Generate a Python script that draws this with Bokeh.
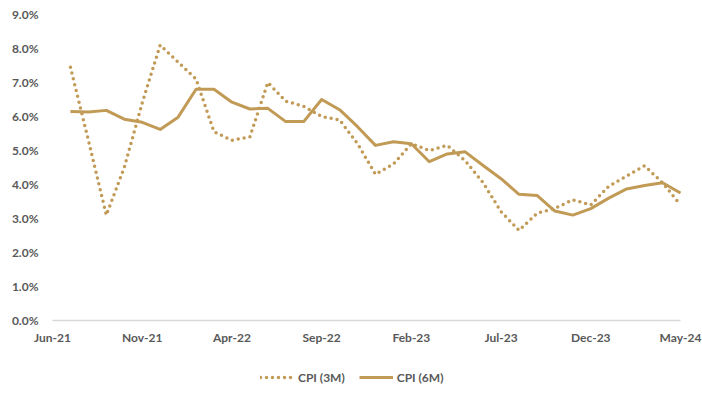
from bokeh.plotting import figure
from bokeh.models import Legend, LegendItem, ColumnDataSource
from bokeh.embed import file_html
from bokeh.resources import INLINE

months = ["Jun-21", "Jul-21", "Aug-21", "Sep-21", "Oct-21", "Nov-21", "Dec-21",
          "Jan-22", "Feb-22", "Mar-22", "Apr-22", "May-22", "Jun-22", "Jul-22",
          "Aug-22", "Sep-22", "Oct-22", "Nov-22", "Dec-22", "Jan-23", "Feb-23",
          "Mar-23", "Apr-23", "May-23", "Jun-23", "Jul-23", "Aug-23", "Sep-23",
          "Oct-23", "Nov-23", "Dec-23", "Jan-24", "Feb-24", "Mar-24", "Apr-24",
          "May-24"]

# values start at Jul-21 (Jun-21 category is empty)
cpi_3m = [7.45, 5.3, 3.1, 4.5, 6.4, 8.1, 7.6, 7.1, 5.55, 5.3, 5.4, 7.0, 6.45,
          6.3, 6.0, 5.9, 5.2, 4.3, 4.6, 5.2, 5.0, 5.15, 4.7, 4.05, 3.2, 2.65,
          3.15, 3.3, 3.55, 3.4, 3.95, 4.25, 4.55, 4.05, 3.4]
cpi_6m = [6.15, 6.13, 6.18, 5.92, 5.83, 5.62, 5.98, 6.8, 6.8, 6.42, 6.22, 6.24,
          5.85, 5.85, 6.5, 6.2, 5.7, 5.15, 5.26, 5.2, 4.67, 4.9, 4.96, 4.56,
          4.17, 3.71, 3.68, 3.22, 3.1, 3.29, 3.6, 3.87, 3.97, 4.05, 3.75]

y_ticks = [0, 1, 2, 3, 4, 5, 6, 7, 8, 9]
y_labels = [f"{t:.1f}%" for t in y_ticks]
x_ticks = [0, 5, 10, 15, 20, 25, 30, 35]
x_labels = [months[i] for i in x_ticks]

GOLD = "#C19A56"
TEXT = "#595959"
FONT = "Lato"

# layout (pixels): plot area x 52..680, y=9 at 14, y=0 at 320; frame = whole page
W, H = 702, 399
LEFT_PX, RIGHT_PX, TOP_PX, ZERO_PX = 52, 680, 14, 320
n_last = len(months) - 1
xu = (RIGHT_PX - LEFT_PX) / n_last
yu = (ZERO_PX - TOP_PX) / 9
x_start = -LEFT_PX / xu
x_end = n_last + (W - RIGHT_PX) / xu
y_end = 9 + TOP_PX / yu
y_start = 9 - (H - TOP_PX) / yu

x_idx = list(range(1, len(months)))
src = ColumnDataSource(dict(x=x_idx, m3=cpi_3m, m6=cpi_6m))
xlab_src = ColumnDataSource(dict(x=x_ticks, y=[0] * len(x_ticks), t=x_labels))
ylab_src = ColumnDataSource(dict(x=[0] * len(y_ticks), y=y_ticks, t=y_labels))

p = figure(width=W, height=H, output_backend="svg", toolbar_location=None,
           x_range=(x_start, x_end), y_range=(y_start, y_end),
           x_axis_location=None, y_axis_location=None,
           min_border=0)
p.outline_line_color = None
p.background_fill_color = "white"
p.border_fill_color = "white"
p.xgrid.visible = False
p.ygrid.visible = False

# category axis line
p.segment(x0=[x_ticks[0]], y0=[0], x1=[x_ticks[-1]], y1=[0],
          line_color="#D9D9D9", line_width=1.5)

r3 = p.line("x", "m3", source=src, line_color=GOLD, line_width=3.5,
            line_dash="0 6", line_cap="round")
r6 = p.line("x", "m6", source=src, line_color=GOLD, line_width=3,
            line_join="round")

# axis labels
p.text("x", "y", text="t", source=xlab_src, text_align="center",
       text_baseline="top", y_offset=9, text_font={"value": FONT},
       text_font_size="12px", text_font_style="bold", text_color=TEXT)
p.text("x", "y", text="t", source=ylab_src, text_align="right",
       text_baseline="middle", x_offset=-14, text_font={"value": FONT},
       text_font_size="12px", text_font_style="bold", text_color=TEXT)

legend = Legend(items=[LegendItem(label="CPI (3M)", renderers=[r3]),
                       LegendItem(label="CPI (6M)", renderers=[r6])],
                orientation="horizontal", location=(260, 12),
                label_text_font=FONT, label_text_font_size="12px",
                label_text_font_style="bold",
                label_text_color=TEXT, glyph_width=34, label_standoff=4,
                spacing=14, border_line_color=None,
                background_fill_alpha=0)
p.add_layout(legend, "center")

open("out.html", "w").write(file_html(p, INLINE))
